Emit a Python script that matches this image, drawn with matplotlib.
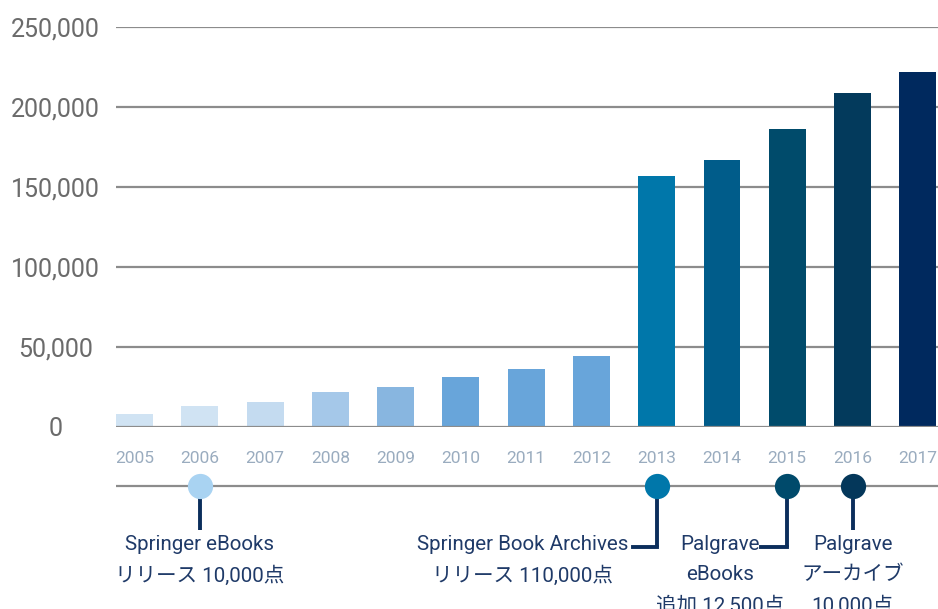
import matplotlib.pyplot as plt

years = ['2005', '2006', '2007', '2008', '2009', '2010', '2011',
         '2012', '2013', '2014', '2015', '2016', '2017']
titles = [7900, 12900, 15400, 21600, 25300, 31500, 36500,
          44600, 157000, 167000, 186500, 208500, 221700]
bar_colors = ['#d0e3f3', '#d0e3f3', '#c4dbf0', '#a5c8e9', '#88b6e0',
              '#68a5da', '#68a5da', '#68a5da', '#0077aa', '#005c8a',
              '#004b6b', '#033a5c', '#00295e']
yticks = [0, 50000, 100000, 150000, 200000, 250000]

event_years = ['2006', '2013', '2015', '2016']
event_labels = ['Springer eBooks\nリリース 10,000点',
                'Springer Book Archives\nリリース 110,000点',
                'Palgrave\neBooks\n追加 12,500点',
                'Palgrave\nアーカイブ\n10,000点']
event_colors = ['#a9d3f2', '#0077aa', '#004a6b', '#04375a']

fonts = ['Roboto', 'Noto Sans CJK JP', 'DejaVu Sans']
plt.rcParams['font.family'] = fonts

W, H = 938, 609
fig = plt.figure(figsize=(W / 100, H / 100), dpi=100)

left, right = 116 / W, 1.0
ax = fig.add_axes([left, (H - 427) / H, right - left, 400 / H])
x = list(range(len(years)))
xlim = (-0.285, len(years) - 1 + 0.31)

ax.bar(x, titles, width=0.565, color=bar_colors, zorder=2)
ax.set_xlim(*xlim)
ax.set_ylim(0, 250000)
for v in yticks:
    ax.axhline(v, color='#8c8c8c', lw=1.6, zorder=1 if v else 3)
    ax.text(-0.074, v, f'{v:,}', transform=ax.get_yaxis_transform(),
            ha='center', va='center_baseline', fontsize=18, color='#6b6b6b')
for s in ax.spines.values():
    s.set_visible(False)
ax.set_yticks([])
ax.set_xticks(x)
ax.set_xticklabels(years, fontsize=12.5, color='#9aacbf')
ax.tick_params(axis='x', length=0, pad=17)

# timeline below the bars, y in pixel units from the top
ax2 = fig.add_axes([left, 0, right - left, (H - 440) / H])
ax2.set_xlim(*xlim)
ax2.set_ylim(H, 440)
ax2.axis('off')
ax2.axhline(486, color='#8c8c8c', lw=1.6, zorder=1)

navy = '#0b2e5c'
text_col = '#1f3a68'
# stem end, label centre offset, elbow end offset
layout = {'2006': (530, 0.0, None),
          '2013': (547, -2.06, -0.36),
          '2015': (547, -1.03, -0.40),
          '2016': (530, 0.0, None)}
for yr, lab, col in zip(event_years, event_labels, event_colors):
    xi = years.index(yr)
    stem_end, lab_off, elbow = layout[yr]
    ax2.plot([xi, xi], [486, stem_end], color=navy, lw=2.8, zorder=2,
             solid_capstyle='butt')
    if elbow is not None:
        ax2.plot([xi, xi + elbow], [stem_end, stem_end], color=navy,
                 lw=2.8, zorder=2, solid_capstyle='projecting')
    ax2.scatter([xi], [486], s=330, color=col, zorder=3, linewidths=0)
    ax2.text(xi + lab_off, 535, lab, ha='center', va='top', fontsize=14.8,
             color=text_col, linespacing=1.72, clip_on=False)

fig.savefig('out.png', dpi=100)
